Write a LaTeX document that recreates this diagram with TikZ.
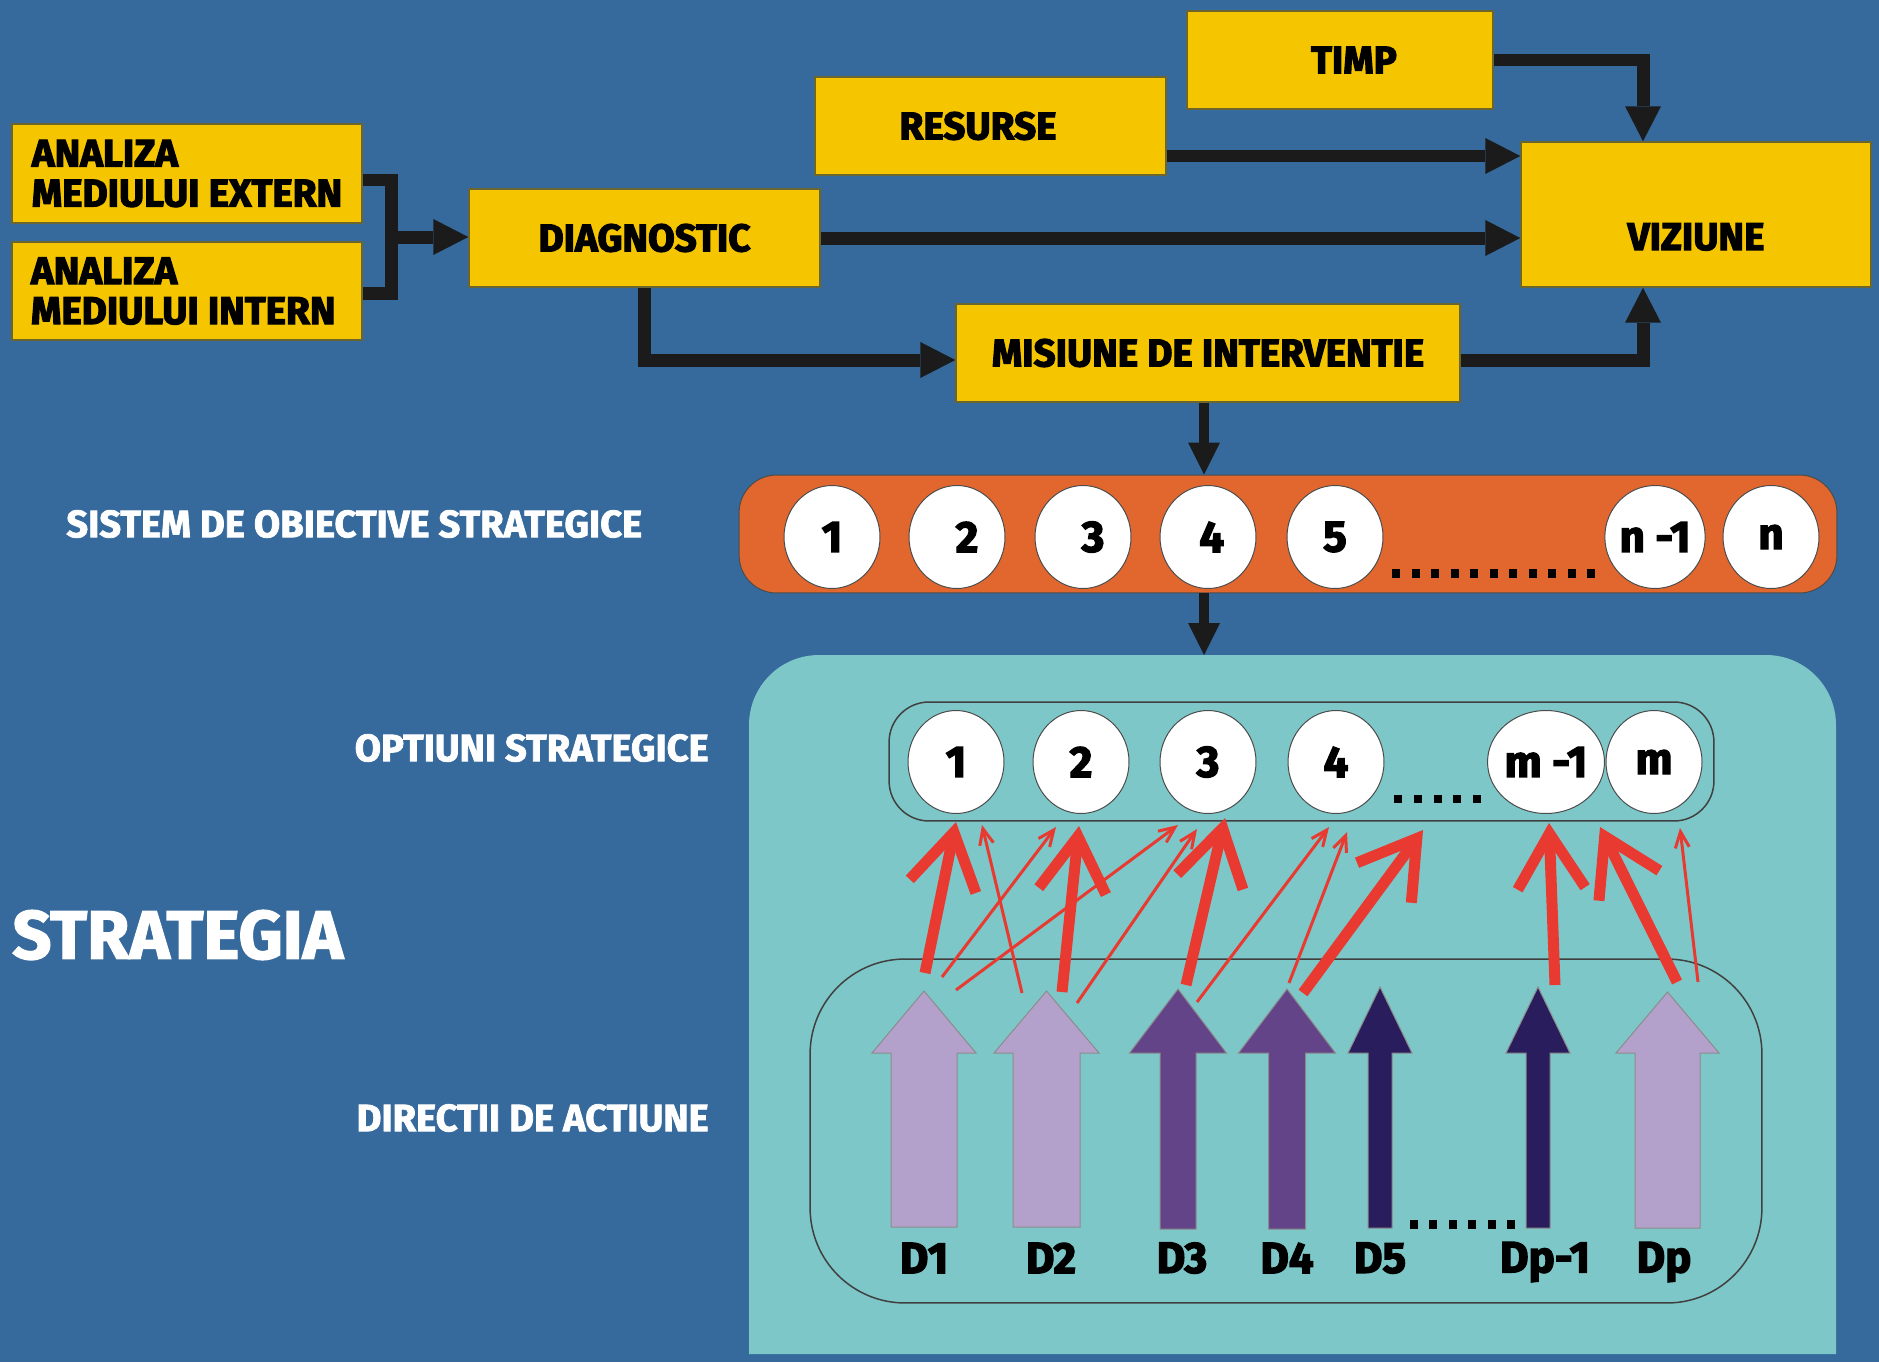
\documentclass[tikz,border=0pt]{standalone}
\usepackage{fontspec}
\usetikzlibrary{arrows.meta,shapes.geometric,calc}
\setmainfont{Fira Sans}
\newfontfamily\heavy[FakeBold=3]{Fira Sans Bold}
\newfontfamily\heavylbl[FakeBold=2]{Fira Sans Bold}
\newcommand\boxfont{\heavy\fontsize{22}{22.7}\selectfont}
\newcommand\lblfont{\heavylbl\fontsize{21.7}{24}\selectfont}
\newcommand\bigfont{\heavylbl\fontsize{39}{44}\selectfont}
\newcommand\numfont{\heavy\fontsize{25}{30}\selectfont}
\definecolor{bgblue}{HTML}{366A9C}
\definecolor{boxyellow}{HTML}{F5C500}
\definecolor{barorange}{HTML}{E2672F}
\definecolor{tealbg}{HTML}{7DC7C8}
\definecolor{lilac}{HTML}{B3A1CC}
\definecolor{violetD}{HTML}{634489}
\definecolor{navyD}{HTML}{291D5D}
\definecolor{redarrow}{HTML}{E83A30}
\definecolor{connc}{HTML}{1B1B1B}
\definecolor{boxedge}{HTML}{6B6530}
\newcommand\DirArrow[6]{%
  \filldraw[draw=black!45, line width=0.02cm, fill=#6]
    (#1,#2) -- (#1+#3,1053) -- (#1+#4,1053) -- (#1+#4,#5) -- (#1-#4,#5)
    -- (#1-#4,1053) -- (#1-#3,1053) -- cycle;}
\tikzset{
  box/.style={draw=boxedge, line width=0.03cm, fill=boxyellow, inner sep=0pt,
    font=\boxfont, text=black},
  conn/.style={draw=connc, line width=0.26cm,
    -{Triangle[length=0.7cm,width=0.72cm,line width=0pt]}},
  connline/.style={draw=connc, line width=0.26cm},
  conntwo/.style={draw=connc, line width=0.2cm,
    -{Triangle[length=0.64cm,width=0.64cm,line width=0pt]}},
  ell/.style={ellipse, draw=black!70, line width=0.02cm, fill=white,
    minimum width=1.92cm, minimum height=2.06cm, inner sep=0pt, font=\numfont},
  wlabel/.style={inner sep=0pt, text=white, font=\lblfont},
  dlabel/.style={inner sep=0pt, text=black, font=\numfont},
  thickred/.style={draw=redarrow, line width=0.22cm,
    -{Straight Barb[length=1.1cm,width=1.35cm]}},
  thinred/.style={draw=redarrow, line width=0.06cm,
    -{Straight Barb[length=0.32cm,width=0.28cm]}},
}
\begin{document}
\begin{tikzpicture}[x=0.02cm,y=-0.02cm]
\useasboundingbox (0,0) rectangle (1879,1362);
\fill[bgblue] (0,0) rectangle (1879,1362);

% ---- top boxes
\node[box, minimum width=7.0cm, minimum height=1.98cm, align=left]
  (ext) at (187,173.5) {ANALIZA\\MEDIULUI EXTERN};
\node[box, minimum width=7.0cm, minimum height=1.96cm, align=left]
  (int) at (187,291) {ANALIZA\\MEDIULUI INTERN\hspace*{0.15cm}};
\node[box, minimum width=7.02cm, minimum height=1.96cm] (diag) at (644.5,238) {DIAGNOSTIC};
\node[box, minimum width=7.02cm, minimum height=1.96cm] (res) at (990.5,126) {RESURSE\hspace*{0.5cm}};
\node[box, minimum width=6.12cm, minimum height=1.96cm] (timp) at (1340,60) {\hspace*{0.56cm}TIMP};
\node[box, minimum width=7.0cm, minimum height=2.9cm, text height=1.42cm, text depth=0pt]
  (viz) at (1696,214.5) {VIZIUNE};
\node[box, minimum width=10.08cm, minimum height=1.96cm] (mis) at (1208,353) {MISIUNE DE INTERVENTIE};

% ---- connectors top
\coordinate (j1) at (391,180);
\coordinate (j2) at (391,293);
\coordinate (jm) at (391,237);
\draw[connline] (ext.east |- j1) -- (j1) -- (j2) -- (int.east |- j2);
\draw[conn] (jm) -- (jm -| diag.west);
\draw[conn] (diag.east) -- (diag.east -| viz.west);
\coordinate (rv) at (1166,156);
\draw[conn] (res.east |- rv) -- (rv -| viz.west);
\coordinate (vx) at (1643,0);
\draw[conn] (timp.east) -| (vx |- viz.north);
\coordinate (ym) at (0,360);
\draw[conn] (mis.east |- ym) -| (vx |- viz.south);
\draw[conn] (diag.south) |- (mis.west |- ym);

% ---- orange bar with objectives
\node[draw=black!70, line width=0.02cm, fill=barorange, rounded corners=0.75cm,
  minimum width=21.96cm, minimum height=2.36cm, inner sep=0pt] (bar) at (1288,534) {};
\coordinate (mx) at (1204,0);
\draw[conntwo] (mis.south -| mx) -- (bar.north -| mx);

\node[ell] (o1) at (832,537) {1};
\node[ell] (o2) at (957,537) {\hspace{0.4cm}2};
\node[ell] (o3) at (1083,537) {\hspace{0.4cm}3};
\node[ell] (o4) at (1208,537) {\hspace{0.15cm}4};
\node[ell] (o5) at (1335,537) {5};
\node[ell] (on1) at (1655,537) {n -1};
\node[ell] (on) at (1771,537) {n};
\foreach \i in {0,...,10} \fill[black] ({1392+\i*19.5},569) rectangle ++(8,9);

% ---- teal region
\fill[tealbg] (749,1354) -- (749,725) arc[start angle=180,end angle=90,radius=1.4cm]
  -- (1766,655) arc[start angle=90,end angle=0,radius=1.4cm] -- (1836,1354) -- cycle;
\coordinate (tealtop) at (1204,655);
\draw[conntwo] (bar.south -| mx) -- (tealtop);

% options
\node[draw=black!75, line width=0.03cm, rounded corners=0.8cm,
  minimum width=16.5cm, minimum height=2.38cm, inner sep=0pt] (optframe) at (1301.5,761.5) {};
\node[ell] (p1) at (956,762) {1};
\node[ell] (p2) at (1081,762) {2};
\node[ell] (p3) at (1208,762) {3};
\node[ell] (p4) at (1336,762) {4};
\node[ell] (pm1) at (1546,762) {m -1};
\node[ell] (pm) at (1654,762) {m};
\foreach \i in {0,...,4} \fill[black] ({1394+\i*19.75},795) rectangle ++(8,8);

% directions
\node[draw=black!75, line width=0.03cm, rounded corners=1.9cm,
  minimum width=19.04cm, minimum height=6.88cm, inner sep=0pt] (dirframe) at (1286,1131) {};
\DirArrow{924}{991}{52}{33}{1227}{lilac}
\DirArrow{1046.5}{991}{52.5}{33.5}{1227}{lilac}
\DirArrow{1178}{989}{48.5}{18}{1229}{violetD}
\DirArrow{1287}{989}{48.5}{18.5}{1229}{violetD}
\DirArrow{1380}{987}{32}{12}{1228}{navyD}
\DirArrow{1538}{987}{32}{12}{1228}{navyD}
\DirArrow{1667.5}{992}{51.5}{32.5}{1228}{lilac}
\foreach \i in {0,...,5} \fill[black] ({1410+\i*19.4},1220) rectangle ++(8,9);
\node[dlabel] (d1) at (924,1258) {D1};
\node[dlabel] (d2) at (1051,1258) {D2};
\node[dlabel] (d3) at (1182,1258) {D3};
\node[dlabel] (d4) at (1287,1258) {D4};
\node[dlabel] (d5) at (1380,1258) {D5};
\node[dlabel] (dp1) at (1545,1262) {Dp-1};
\node[dlabel] (dp) at (1664,1262) {Dp};

% red arrows
\coordinate (a1s) at (925,973);  \coordinate (a1e) at (956,822);
\coordinate (a2s) at (1062,992); \coordinate (a2e) at (1079,826);
\coordinate (a3s) at (1186,985); \coordinate (a3e) at (1225,818);
\coordinate (a4s) at (1303,993); \coordinate (a4e) at (1423,830);
\coordinate (a5s) at (1555,985); \coordinate (a5e) at (1549,823);
\coordinate (a6s) at (1677,982); \coordinate (a6e) at (1600,827);
\coordinate (b1s) at (942,977);  \coordinate (b1e) at (1056,827);
\coordinate (b2s) at (956,990);  \coordinate (b2e) at (1178,825);
\coordinate (b3s) at (1022,993); \coordinate (b3e) at (982,825);
\coordinate (b4s) at (1077,1003);\coordinate (b4e) at (1197,829);
\coordinate (b5s) at (1197,1002);\coordinate (b5e) at (1329,827);
\coordinate (b6s) at (1289,983); \coordinate (b6e) at (1347,832);
\coordinate (b7s) at (1698,982); \coordinate (b7e) at (1680,828);
\foreach \n in {1,...,7} \draw[thinred] (b\n s) -- (b\n e);
\foreach \n in {1,...,6} \draw[thickred] (a\n s) -- (a\n e);

% left labels
\node[wlabel, anchor=west] (lsys) at (66,524) {SISTEM DE OBIECTIVE STRATEGICE};
\node[wlabel, anchor=east] (lopt) at (709,748) {OPTIUNI STRATEGICE};
\node[wlabel, anchor=west, font=\bigfont] (lstr) at (12,935) {STRATEGIA};
\node[wlabel, anchor=east] (ldir) at (709,1118) {DIRECTII DE ACTIUNE};
\end{tikzpicture}
\end{document}
